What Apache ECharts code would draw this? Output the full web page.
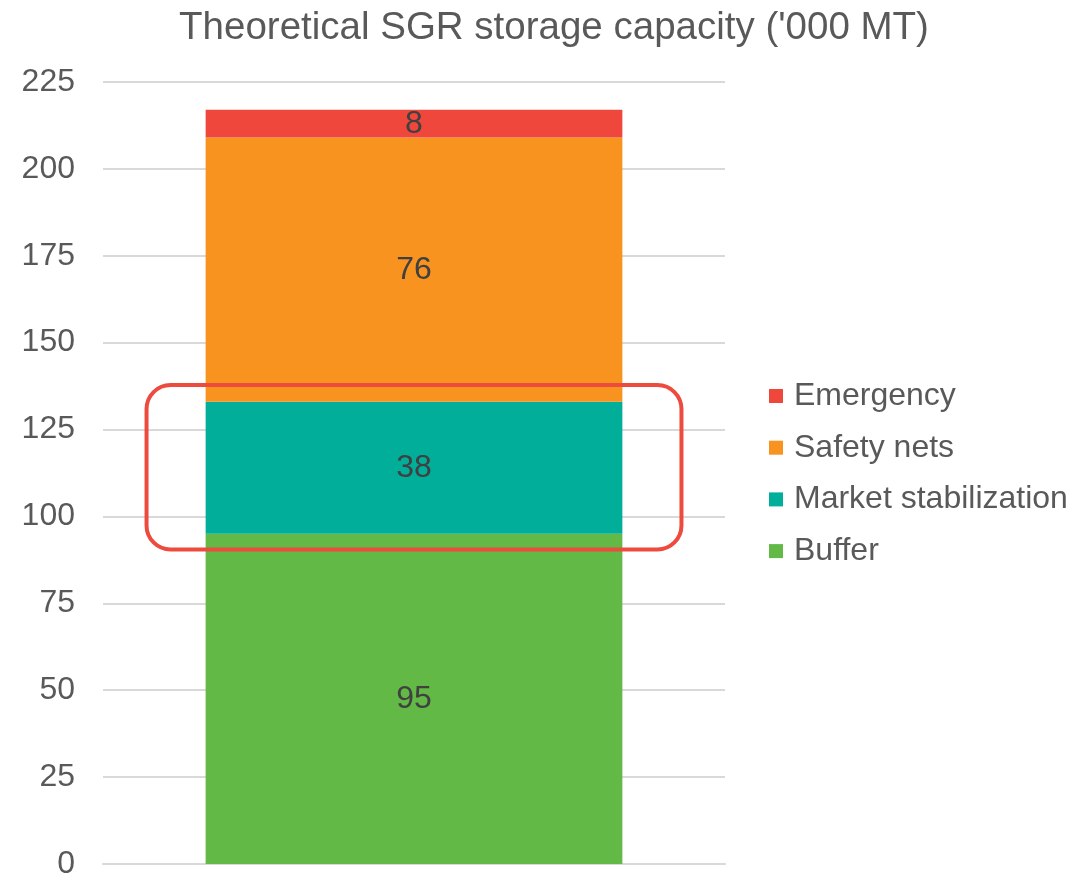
<!DOCTYPE html>
<html>
<head>
<meta charset="utf-8">
<script src="https://cdn.jsdelivr.net/npm/echarts@6/dist/echarts.min.js"></script>
<style>
  html, body { margin: 0; padding: 0; background: #fff; }
  #chart { width: 1091px; height: 876px; }
</style>
</head>
<body>
<div id="chart"></div>
<script>
const categories = ["SGR"];
const seriesNames = ["Buffer", "Market stabilization", "Safety nets", "Emergency"];
const buffer = [95];
const marketStabilization = [38];
const safetyNets = [76];
const emergency = [8];
const yTicks = [0, 25, 50, 75, 100, 125, 150, 175, 200, 225];
// highlight box around the market stabilization block (value range)
const highlightRange = [90.5, 137.8];

const colors = ["#62B946", "#00AE9A", "#F7931E", "#F0473D"];
const values = [buffer, marketStabilization, safetyNets, emergency];

const chart = echarts.init(document.getElementById("chart"));

const option = {
  animation: false,
  title: {
    text: "Theoretical SGR storage capacity ('000 MT)",
    left: 549,
    top: 4,
    textAlign: "center",
    textStyle: {
      fontFamily: "Liberation Sans, Arial",
      fontSize: 38.5,
      fontWeight: "normal",
      color: "#595959",
    },
  },
  grid: {
    left: 103,
    right: 366,
    top: 82,
    bottom: 12,
    outerBoundsMode: "none",
  },
  legend: {
    orient: "vertical",
    left: 764,
    top: 375,
    itemWidth: 14,
    itemHeight: 14,
    itemGap: 19.7,
    icon: "rect",
    data: seriesNames.slice().reverse(),
    textStyle: {
      fontFamily: "Liberation Sans, Arial",
      fontSize: 32,
      color: "#595959",
      padding: [0, 0, 0, 6],
    },
  },
  xAxis: {
    type: "category",
    data: categories,
    axisLine: { show: true, lineStyle: { color: "#D9D9D9", width: 2 } },
    axisTick: { show: false },
    axisLabel: { show: false },
  },
  yAxis: {
    type: "value",
    min: yTicks[0],
    max: yTicks[yTicks.length - 1],
    interval: 25,
    axisLine: { show: false },
    axisTick: { show: false },
    axisLabel: {
      fontFamily: "Liberation Sans, Arial",
      fontSize: 32,
      color: "#595959",
      margin: 28,
    },
    splitLine: { lineStyle: { color: "#D9D9D9", width: 2 } },
  },
  series: seriesNames.map((name, i) => ({
    name: name,
    type: "bar",
    stack: "total",
    barWidth: "67%",
    data: values[i],
    itemStyle: { color: colors[i] },
    label: {
      show: true,
      position: "inside",
      fontFamily: "Liberation Sans, Arial",
      fontSize: 32,
      color: "#404040",
    },
  })),
};

chart.setOption(option);

// highlight box, positioned from the axis scales
const center = chart.convertToPixel({ xAxisIndex: 0 }, categories[0]);
const yTop = chart.convertToPixel({ yAxisIndex: 0 }, highlightRange[1]);
const yBot = chart.convertToPixel({ yAxisIndex: 0 }, highlightRange[0]);
const band = 622;
const halfW = band * 0.43;
chart.setOption({
  graphic: [
    {
      type: "rect",
      z: 100,
      shape: {
        x: center - halfW,
        y: yTop,
        width: halfW * 2,
        height: yBot - yTop,
        r: 24,
      },
      style: { fill: "none", stroke: "#EE4B3F", lineWidth: 4 },
    },
  ],
});
</script>
</body>
</html>
